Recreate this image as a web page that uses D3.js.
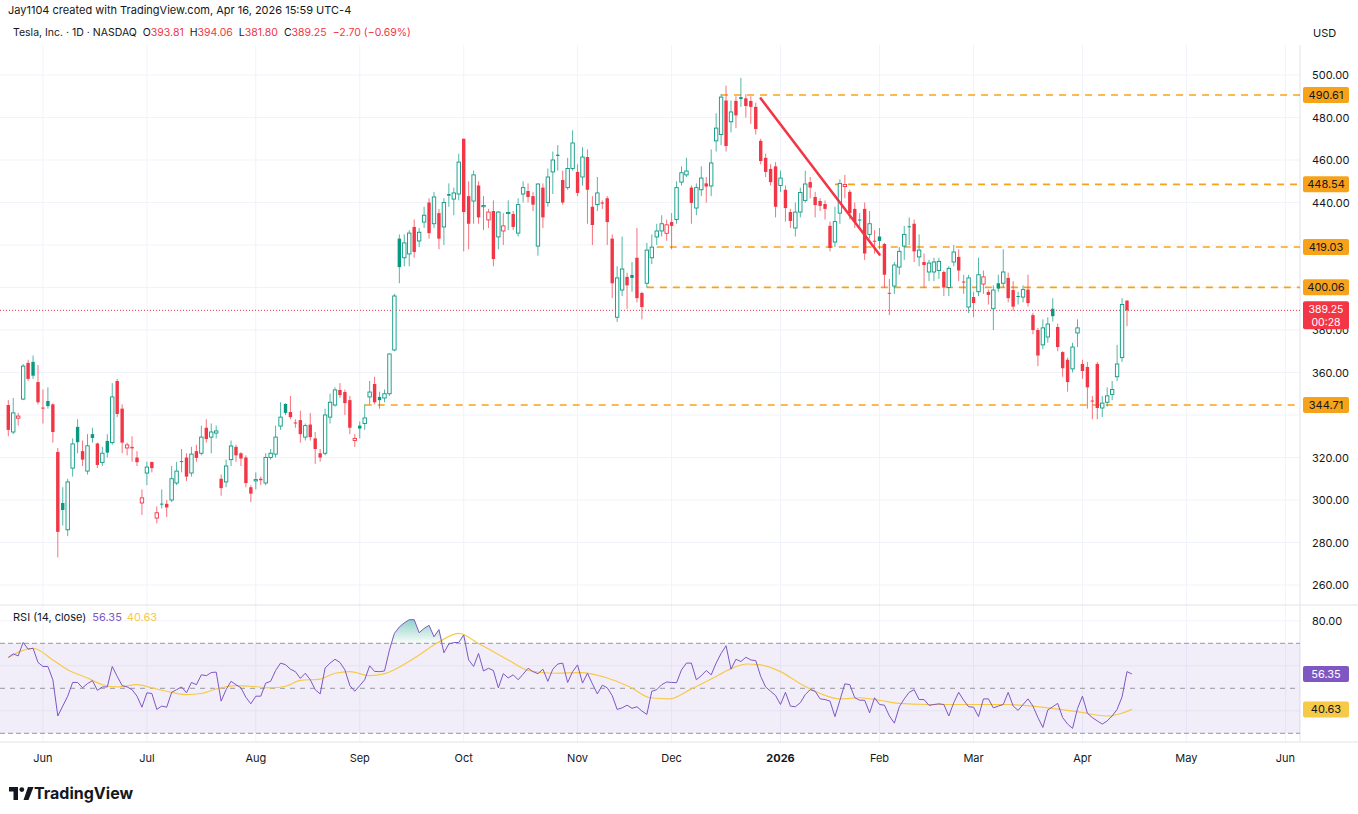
<!DOCTYPE html>
<html>
<head>
<meta charset="utf-8">
<script src="https://cdn.jsdelivr.net/npm/d3@7"></script>
<style>
  body { margin: 0; background: #fff; }
  svg { display: block; font-family: Inter, "Open Sans", sans-serif; }
</style>
</head>
<body>
<svg id="chart" width="1358" height="814"></svg>
<script>
// daily bars, TSLA, late May 2025 -> Apr 16 2026 : [open, high, low, close]
const ohlc = [
[344.7,347,330,333],[332,348,331,341],[338.5,341,335,339.5],[347.5,364,347,363],[364.5,366,356,357],
[365,368,357,358.5],[355.5,363.5,345,346],[343.5,352,336,343],[346.6,353,343,344.2],[345,345.5,327,332],
[322.6,324.5,273,285],[298.6,306,288,295.3],[286,310,283,308.5],[315,329,311,326.4],[334.4,338,322,327.2],
[323,328,316,319],[313.6,331,312,325.5],[331,334,327,329.2],[326.6,327,315,316.5],[317.6,325,316,322],
[327.8,331,320,322.3],[327,355,326,348.5],[356,357,339,340.5],[343,345,322,327],[324.5,327,321,325.9],
[325,330,318,324.3],[320,323,316,317.8],[298.6,305,293,301],[312.7,318,307,315.5],[317.9,318,313,315],
[291.5,297,289,294],[298.3,305,296,298],[298.2,300,292,296.5],[300,316,299,310],[308,318,307,313.6],
[318.3,324,313,318],[320,322,309,311],[312.7,325,311,321.6],[323,326,318,319.8],[322,335,321,329.6],
[334,338,327,328.7],[329.6,336,322,332],[331.5,335,329,332.5],[310,312,302,305.6],[308.5,319,306,316],
[319,328,316,325.4],[325,326,318,321],[322,322.5,316,319.5],[320,321,306,308],[306,307,299,303],
[309,313,305,309.6],[310,311,307,309.3],[308,322,307,320],[320,324,319,322],[321.6,335,320,329.6],
[334.8,346,333,339],[345.2,345.5,340,341],[341.4,349,338,339],[336.5,338,334,336],[337.6,342,327,331],
[329.6,336,328,335],[335.5,341,328,329.6],[329,332,317,324],[322,324,318,320],[322,343,321,340],
[339,350,336,346],[344.7,353,344,351.8],[351.8,355,348,349.4],[350.8,352,340,345.6],[347,349,331,334],
[328,331,325,329],[335,337,329,333.6],[336,345,333,338.6],[348.5,356,345,350.8],[354.6,358,345,346],
[348.5,351,343,347],[348,352,346,350],[350,369,349,368.7],[370.6,397,370,396],[423,425,402,409.6],
[414,425,410,421],[415.8,427,410,425.6],[428.5,432,414,416.7],[421.9,428,419,426],[430.8,438,428,434],
[440,442,423,425.6],[430,445,428,442.6],[435,437,418,423],[428.5,442,420,440],[444,449,438,443.2],
[441.6,447,434,444.5],[444,463,441,459],[470,470,417,435.5],[443,450,418,430],[440.7,455,430,453],
[448,450,430,433],[438,443,427,438.6],[431.8,437,428,435.5],[436,441,410,413.4],[423.8,436,418,435.5],
[426.6,435,420,429],[435,441,427,435.3],[434.6,436,427,428.5],[425.6,442,424,439],[444,450,440,447],
[445.4,449,440,442.6],[443,445,436,439],[419.5,449,415,448.7],[447,449,428,433],[440,456,438,452],
[454.4,464,444,460],[462.5,467,455,461.9],[450.6,455,439,440],[447,461,446,456],[456,474,455,468],
[454.4,458,443,444.5],[452,466,448,461.4],[461.4,465,430,446],[438,443,420,429.4],[439,452,436,444.5],
[440,441,437,439.5],[442,443,420,430.8],[423,425,395,402],[386,410,383.8,404.5],[398.8,424,396,408.7],
[405,407,390,401],[405.9,412,398,404.5],[414,428,393,395],[397.4,398,385,390.8],[402,421,400,417.6],
[414,425,411,419],[423.8,430,420,426.6],[426.6,434,424,430],[425.5,432,422,429.5],[430.8,435,418,429],
[432,450,430,447],[449.6,457,448,454],[453,461,452,454.8],[447,448,430,439.8],[437.4,449,434,447],
[446,457,443,451.5],[449,452,440,447.5],[447.8,465,443,458.6],[469,482,464,475],[472,491,467,489.6],
[488,495,464,466.6],[478,488,473,482.6],[487.8,490,475,481],[489.6,498.6,485,488.7],[489,491,480,485.4],
[487.8,490,477,485],[485,487,472,474.6],[469,470,458,459.5],[461,463,452,454.4],[455.8,458,448,449.6],
[457,459,433,438],[448,455,445,451.5],[446,448,431,437.4],[435.5,437,428,431.3],[428,440,424,435.5],
[435.5,447,433,444.7],[441,455,440,448.7],[449.6,452,442,447],[442.6,445,433,438.8],[440.7,442,436,438.4],
[439.3,441,432,437],[429,431,417,418.6],[421.4,438,419,431],[435,451,430,449],[447.5,453,442,448.5],
[445,446,432,435],[437,440,428,431],[432,435,428,431.5],[437,440,413,416],[425,436,423,430],
[422,427,416,421.7],[424,428,418,421.9],[420.5,421,400,406],[397.5,404,387,397.2],[400.7,412,397,410.6],
[409.6,419,406,417],[419.5,429,413,425],[428.8,433,420,428.4],[430,432,412,417],[414.4,425,410,417.6],
[412,416,400,410.6],[407.3,413,403,411.5],[407.3,414,403,412],[408,414,404,412.3],[407.3,408,396,400],
[400,410,396,409],[412,420,410,416.7],[414.4,418,403,408],[402.8,406,397,402.5],[390.8,406,388,404.5],
[395.5,398,386,392.7],[398,414,396,406],[401.6,408,397,405],[397.9,399,392,396.5],[390,401,380,398.8],
[402,406,398,399.5],[402,418,400,407.3],[404.5,407,393,395],[398.8,403,389,391],[396,398,392,395.6],
[395.5,401,393,399],[399,406,391,392.7],[387,388,378,380],[380,381,363,368],[373,385,371,381],
[376.7,386,374,382.8],[390,395,384,386.5],[381.4,383,370,372],[369.6,370,358,362],[366,367,351,355.5],
[361.7,374,360,372],[378.6,385,372,381],[364,366,357,360.7],[362.6,365,343,353],[346.8,349,338,346.4],
[364,365,338,343.3],[343.3,349,339,345.6],[346,353,344,349],[349.7,356,347,352],[358,373,356,364],
[367,395,365,392],[393.81,394.06,381.8,389.25]
];

const rsi = [
63.7,65.3,64.4,70.4,67.4,67.8,61.5,59.7,59.7,53.8,37.7,42.1,46.5,52.6,52.6,50.2,52.1,53.4,49.1,50.6,
50.6,59.7,55.3,51.2,50.6,49.4,46.5,41.6,48,47.7,40.6,42.1,41.6,48.2,49.4,50.6,48,52.6,51.6,56,
55.6,57,57.2,44.3,49.4,53.1,51.6,50.2,46,43.1,46.5,46.5,52.3,53.1,57.9,61.2,60.5,58.5,57.4,54.4,
56.7,53.8,49.4,47.5,59,61.2,62.9,61.5,58.2,51.2,48.7,51.2,53.8,60,57.5,
57.4,57.7,67,74.4,77.3,79.1,80.5,80.5,74.7,76.6,78,72.9,76.1,65.8,69.7,70.3,70.4,73.7,62.6,59.7,
65.5,57.7,58.9,57.9,50.2,56.5,54.6,56,53.8,56.3,58.9,57.4,56.5,58.5,53.1,58.5,60.8,61.2,52.6,57.4,
60.4,52.3,56.7,52,47.5,51.4,50.2,46.8,40.6,41.3,42.5,41.1,41.8,39.9,38.4,48.7,49.4,51.6,52.8,52.6,
52.5,58.2,61.2,61.2,53.8,55.6,57.9,56,61.2,65.5,68.9,58.5,62.9,61.9,63.8,62.6,62.3,55.3,50.6,
48.7,46.8,42.8,48.2,42.1,41.8,43.6,47.2,49.4,48.7,45.3,45,44.3,37.4,44.7,52,51.6,45.8,44.7,44.7,
39.1,45.8,42.8,42.5,37.7,34.5,41.8,45.3,48.2,49.4,45,45,42.4,42.8,43.1,42.8,37.7,43.6,48.2,44.7,
41.8,41.6,37.4,45.3,45.3,41.3,42.1,42.8,48.2,42.1,40.2,42.8,45.3,42.1,37,32.6,40.4,41.8,43.3,37,
34.1,32.2,41,46.5,38.9,37,35.5,34.1,35.5,37.7,40.6,46.2,57.4,56.35
];

// RSI moving average, read at [bar index, value]
const rsiMA = [
[0,63.7],[5,67.8],[9,62.6],[12,58.2],[16,54.6],[19,51.6],[22,50.6],[26,51.6],[29,50.2],[32,48.7],
[36,47.2],[39,47.7],[42,49.7],[46,51.2],[49,50.9],[53,50.2],[56,50.9],[59,53.5],[63,54.1],[66,56.7],
[69,57.4],[73,55.6],[76,56.5],[82,63.4],[86.5,69.9],[91,74.4],[95,69.9],[101,62.6],[105,57.9],[110,56.7],
[115.5,57],[121,54.6],[125.6,50.6],[129.6,45.8],[133.7,45.3],[137.7,49.4],[142.4,54.6],[145.8,58.5],[149.2,60.8],[152,60.4],
[156,57.4],[160,52],[164,47.7],[168,45.3],[172,45.8],[176,44.7],[180,43.3],[185.6,42.8],[191,42.8],[196.4,42.8],
[201.7,42.8],[207,42.1],[212.5,40.6],[216.5,39.4],[222,37.7],[224.6,38.7],[227,40.63]
];

const priceTicks = [260,280,300,320,340,360,380,400,420,440,460,480,500];
const rsiTicks = [80, 60, 40];
const months = [[7,"Jun"],[28,"Jul"],[50,"Aug"],[71,"Sep"],[92,"Oct"],[115,"Nov"],[134,"Dec"],
  [156,"2026"],[176,"Feb"],[195,"Mar"],[217,"Apr"],[238,"May"],[258,"Jun"]];
// horizontal levels: [price, first bar index]
const levels = [[490.61,144],[448.54,167],[419.03,131],[400.06,129],[344.71,72]];
const trend = [[152,489],[176,415.5]];
const lastPrice = 389.25;

const W = 1358, paneR = 1300;
const svg = d3.select("#chart");
const green = "#089981", red = "#f23645", orange = "#f7a21b";

const x = d3.scaleLinear().domain([0, 1]).range([8.3, 8.3 + 4.95]);
const y = d3.scaleLinear().domain([260, 500]).range([585, 75]);
const yr = d3.scaleLinear().domain([30, 70]).range([733.3, 643.3]);

// grid
const grid = svg.append("g").attr("stroke", "#f0f3fa");
grid.selectAll(".v").data(months).enter().append("line")
  .attr("x1", d => x(d[0])).attr("x2", d => x(d[0])).attr("y1", 45).attr("y2", 742);
grid.selectAll(".h").data(priceTicks).enter().append("line")
  .attr("x1", 0).attr("x2", paneR).attr("y1", d => y(d)).attr("y2", d => y(d));
grid.selectAll(".hr").data(rsiTicks).enter().append("line")
  .attr("x1", 0).attr("x2", paneR).attr("y1", d => yr(d)).attr("y2", d => yr(d));

// pane borders
svg.append("line").attr("x1", 0).attr("x2", W).attr("y1", 605).attr("y2", 605).attr("stroke", "#e0e3eb");
svg.append("line").attr("x1", 0).attr("x2", W).attr("y1", 742).attr("y2", 742).attr("stroke", "#e0e3eb");
svg.append("line").attr("x1", paneR).attr("x2", paneR).attr("y1", 45).attr("y2", 742).attr("stroke", "#e0e3eb");

// price axis (labels hidden where a level label sits on top)
const labelYs = levels.map(d => y(d[0])).concat([y(lastPrice)]);
svg.append("g").selectAll("text")
  .data(priceTicks.filter(t => labelYs.every(ly => Math.abs(ly - y(t)) > 11))).enter().append("text")
  .attr("x", 1312).attr("y", d => y(d) + 4).attr("font-size", 11).attr("fill", "#131722")
  .text(d => d.toFixed(2));
svg.append("text").attr("x", 1313).attr("y", 37).attr("font-size", 11).attr("fill", "#131722").text("USD");

// levels
svg.append("g").selectAll("line").data(levels).enter().append("line")
  .attr("x1", d => x(d[1])).attr("x2", paneR).attr("y1", d => y(d[0])).attr("y2", d => y(d[0]))
  .attr("stroke", orange).attr("stroke-width", 1.6).attr("stroke-dasharray", "7,6");

// last price line
svg.append("line").attr("x1", 0).attr("x2", paneR).attr("y1", y(lastPrice)).attr("y2", y(lastPrice))
  .attr("stroke", red).attr("stroke-width", 1).attr("stroke-dasharray", "1,2");

// candles
const bars = ohlc.map((d, i) => {
  const prev = i ? ohlc[i - 1][3] : d[0];
  return { i, o: d[0], h: d[1], l: d[2], c: d[3], col: d[3] >= prev ? green : red, hollow: d[3] >= d[0] };
});
const cg = svg.append("g");
cg.selectAll(".wick").data(bars).enter().append("line")
  .attr("x1", d => x(d.i)).attr("x2", d => x(d.i))
  .attr("y1", d => y(d.h)).attr("y2", d => y(d.l))
  .attr("stroke", d => d.col).attr("stroke-opacity", 0.7);
cg.selectAll(".body").data(bars).enter().append("rect")
  .attr("x", d => x(d.i) - 1.7).attr("width", 3.4)
  .attr("y", d => y(Math.max(d.o, d.c)))
  .attr("height", d => Math.max(1, Math.abs(y(d.o) - y(d.c))))
  .attr("fill", d => d.hollow ? "#fff" : d.col)
  .attr("stroke", d => d.col).attr("stroke-width", d => d.hollow ? 0.9 : 0);

// trend line
svg.append("line").attr("x1", x(trend[0][0])).attr("y1", y(trend[0][1]))
  .attr("x2", x(trend[1][0])).attr("y2", y(trend[1][1]))
  .attr("stroke", red).attr("stroke-width", 2.5).attr("stroke-linecap", "round");

// level labels
const lb = svg.append("g").selectAll("g").data(levels).enter().append("g");
lb.append("rect").attr("x", 1303).attr("y", d => y(d[0]) - 8).attr("width", 46).attr("height", 16)
  .attr("rx", 2).attr("fill", orange);
lb.append("text").attr("x", 1326).attr("y", d => y(d[0]) + 4).attr("text-anchor", "middle")
  .attr("font-size", 11).attr("fill", "#131722").text(d => d[0].toFixed(2));

svg.append("rect").attr("x", 1303).attr("y", y(lastPrice) - 9).attr("width", 46).attr("height", 28)
  .attr("rx", 2).attr("fill", red);
svg.append("text").attr("x", 1326).attr("y", y(lastPrice) + 3).attr("text-anchor", "middle")
  .attr("font-size", 10.5).attr("fill", "#fff").text(lastPrice.toFixed(2));
svg.append("text").attr("x", 1326).attr("y", y(lastPrice) + 16).attr("text-anchor", "middle")
  .attr("font-size", 10.5).attr("fill", "#fff").text("00:28");

// RSI pane
svg.append("rect").attr("x", 0).attr("width", paneR).attr("y", yr(70)).attr("height", yr(30) - yr(70))
  .attr("fill", "#7e57c2").attr("fill-opacity", 0.1);
svg.append("g").selectAll("line").data([70, 50, 30]).enter().append("line")
  .attr("x1", 0).attr("x2", paneR).attr("y1", d => yr(d)).attr("y2", d => yr(d))
  .attr("stroke", "#9598a1").attr("stroke-dasharray", d => d === 50 ? "5,5" : "5,3");

const defs = svg.append("defs");
const gr = defs.append("linearGradient").attr("id", "ob").attr("x1", 0).attr("x2", 0).attr("y1", 0).attr("y2", 1);
gr.append("stop").attr("offset", "0%").attr("stop-color", green).attr("stop-opacity", 0.45);
gr.append("stop").attr("offset", "100%").attr("stop-color", green).attr("stop-opacity", 0.02);
svg.append("path").datum(rsi)
  .attr("d", d3.area().x((d, i) => x(i)).y0(yr(70)).y1(d => yr(Math.max(70, d))))
  .attr("fill", "url(#ob)");

svg.append("path").datum(rsiMA)
  .attr("d", d3.line().x(d => x(d[0])).y(d => yr(d[1])).curve(d3.curveMonotoneX))
  .attr("fill", "none").attr("stroke", "#f7c948").attr("stroke-width", 1.2);
svg.append("path").datum(rsi)
  .attr("d", d3.line().x((d, i) => x(i)).y(d => yr(d)))
  .attr("fill", "none").attr("stroke", "#7e57c2").attr("stroke-width", 1);

const rsiLast = rsi[rsi.length - 1], maLast = rsiMA[rsiMA.length - 1][1];
const rLabelYs = [yr(rsiLast), yr(maLast)];
svg.append("g").selectAll("text")
  .data(rsiTicks.filter(t => rLabelYs.every(ly => Math.abs(ly - yr(t)) > 11))).enter().append("text")
  .attr("x", 1312).attr("y", d => yr(d) + 4).attr("font-size", 11).attr("fill", "#131722")
  .text(d => d.toFixed(2));
[[rsiLast, "#7e57c2", "#fff"], [maLast, "#f7c948", "#131722"]].forEach(([v, bg, fg]) => {
  svg.append("rect").attr("x", 1303).attr("y", yr(v) - 8).attr("width", 46).attr("height", 16).attr("rx", 2).attr("fill", bg);
  svg.append("text").attr("x", 1326).attr("y", yr(v) + 4).attr("text-anchor", "middle")
    .attr("font-size", 11).attr("fill", fg).text(v.toFixed(2));
});
const rl = svg.append("text").attr("x", 13).attr("y", 621).attr("font-size", 11);
rl.append("tspan").attr("fill", "#131722").text("RSI (14, close)");
rl.append("tspan").attr("dx", 6).attr("fill", "#7e57c2").text(rsiLast.toFixed(2));
rl.append("tspan").attr("dx", 5).attr("fill", "#f7c948").text(maLast.toFixed(2));

// time axis
svg.append("g").selectAll("text").data(months).enter().append("text")
  .attr("x", d => x(d[0])).attr("y", 762).attr("text-anchor", "middle").attr("font-size", 11)
  .attr("font-weight", d => d[1] === "2026" ? 700 : 400).attr("fill", "#131722").text(d => d[1]);

// header
svg.append("text").attr("x", 8).attr("y", 14).attr("font-size", 11).attr("fill", "#131722")
  .text("Jay1104 created with TradingView.com, Apr 16, 2026 15:59 UTC-4");
const hd = svg.append("text").attr("x", 13).attr("y", 36).attr("font-size", 10.5).attr("fill", "#131722");
[["Tesla, Inc. · 1D · NASDAQ", null, 0], ["O", null, 6], ["393.81", red, 0], ["H", null, 6], ["394.06", red, 0],
 ["L", null, 6], ["381.80", red, 0], ["C", null, 6], ["389.25", red, 0], ["−2.70 (−0.69%)", red, 6]]
  .forEach(([t, c, dx]) => hd.append("tspan").attr("dx", dx).attr("fill", c || "#131722").text(t));

// logo
const logo = svg.append("g").attr("transform", "translate(9,787)");
logo.append("path").attr("d", "M0,0 H9 V13 H4.5 V4.5 H0 Z").attr("fill", "#131722");
logo.append("circle").attr("cx", 12.8).attr("cy", 2.6).attr("r", 2.4).attr("fill", "#131722");
logo.append("path").attr("d", "M14.5,13 L19,0 H24.5 L19.5,13 Z").attr("fill", "#131722");
svg.append("text").attr("x", 34).attr("y", 799).attr("font-size", 16).attr("font-weight", 700)
  .attr("fill", "#131722").text("TradingView");
</script>
</body>
</html>
